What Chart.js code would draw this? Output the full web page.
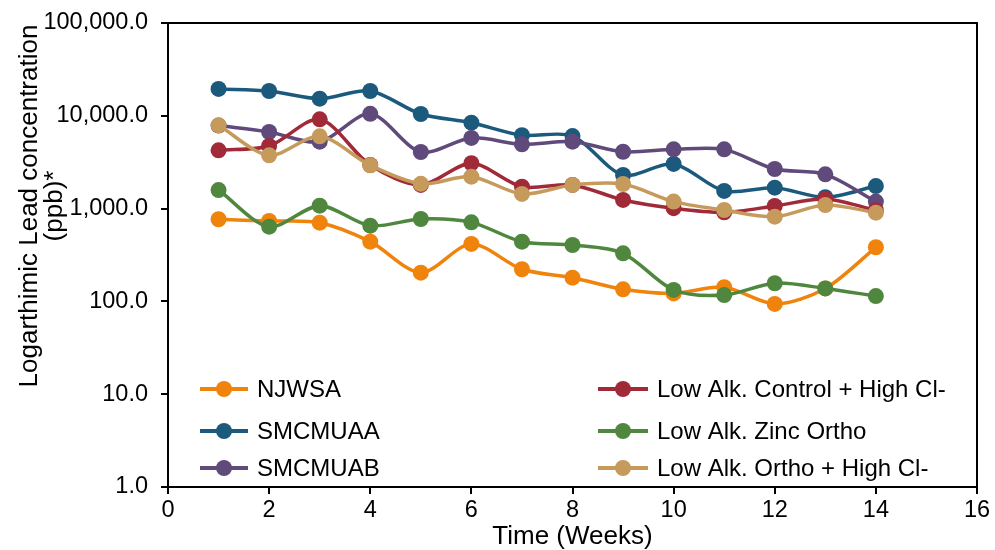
<!DOCTYPE html>
<html>
<head>
<meta charset="utf-8">
<script src="https://cdn.jsdelivr.net/npm/chart.js@4.4.1/dist/chart.umd.min.js"></script>
<style>
  html, body { margin: 0; padding: 0; background: #fff; }
  #wrap { width: 995px; height: 550px; position: relative; }
</style>
</head>
<body>
<div id="wrap"><canvas id="leadChart"></canvas></div>
<script>
// weekly lead samples (ppb)
const weeks = [1, 2, 3, 4, 5, 6, 7, 8, 9, 10, 11, 12, 13, 14]

const seriesNames = [
  'NJWSA',
  'SMCMUAA',
  'SMCMUAB',
  'Low Alk. Control + High Cl-',
  'Low Alk. Zinc Ortho',
  'Low Alk. Ortho + High Cl-'
]
const seriesColors = ['#F0830C', '#1C5A7D', '#604A7B', '#A12A38', '#4F873F', '#C59A5B']

const njwsa = [768, 735, 705, 440, 204, 416, 222, 180, 135, 122, 142, 94, 138, 383]
const smcmuaa = [19500, 18500, 15300, 18500, 10450, 8430, 6170, 6050, 2300, 3030, 1550, 1680, 1325, 1750]
const smcmuab = [7850, 6690, 5260, 10500, 4070, 5770, 4930, 5260, 4100, 4350, 4350, 2670, 2340, 1190]
const lowAlkControl = [4250, 4730, 9160, 2950, 1800, 3080, 1720, 1800, 1240, 1010, 912, 1067, 1270, 960]
const lowAlkZinc = [1585, 638, 1076, 654, 773, 711, 440, 405, 330, 133, 117, 157, 138, 114]
const lowAlkOrtho = [7900, 3750, 6010, 2930, 1850, 2210, 1440, 1800, 1840, 1190, 966, 818, 1094, 904]

const allSeries = [njwsa, smcmuaa, smcmuab, lowAlkControl, lowAlkZinc, lowAlkOrtho]

const yTicks = [1, 10, 100, 1000, 10000, 100000]
const xTicks = [0, 2, 4, 6, 8, 10, 12, 14, 16]
const yTitle = ['Logarthimic Lead concentration', '(ppb)*']

const datasets = allSeries.map((vals, i) => ({
  label: seriesNames[i],
  data: vals.map((v, j) => ({ x: weeks[j], y: v })),
  borderColor: seriesColors[i],
  backgroundColor: seriesColors[i],
  pointBackgroundColor: seriesColors[i],
  pointBorderColor: seriesColors[i],
  pointRadius: 8,
  pointBorderWidth: 0,
  borderWidth: 3.5,
  tension: 0.3,
  // later series sit on top, like the spreadsheet
  order: allSeries.length - i
}))

const font = 'Liberation Sans, Arial, sans-serif'

// legend inside the plot: two columns of three
const insideLegend = {
  id: 'insideLegend',
  afterDraw(chart) {
    const ctx = chart.ctx
    const cols = [{ x0: 200, x1: 248 }, { x0: 598, x1: 648 }]
    const rows = [389, 431, 468]
    ctx.save()
    seriesNames.forEach((name, i) => {
      const c = cols[Math.floor(i / 3)]
      const y = rows[i % 3]
      ctx.strokeStyle = seriesColors[i]
      ctx.lineWidth = 4
      ctx.beginPath()
      ctx.moveTo(c.x0, y)
      ctx.lineTo(c.x1, y)
      ctx.stroke()
      ctx.fillStyle = seriesColors[i]
      ctx.beginPath()
      ctx.arc((c.x0 + c.x1) / 2, y, 8, 0, Math.PI * 2)
      ctx.fill()
      ctx.fillStyle = '#000'
      ctx.font = '24px ' + font
      ctx.textBaseline = 'middle'
      ctx.textAlign = 'left'
      ctx.fillText(name, c.x1 + 9, y + 1)
    })
    ctx.restore()
  }
}

// black box round the plot area, plus the rotated y title
const plotBox = {
  id: 'plotBox',
  afterDraw(chart) {
    const a = chart.chartArea
    const ctx = chart.ctx
    ctx.save()
    ctx.strokeStyle = '#000'
    ctx.lineWidth = 2
    ctx.strokeRect(a.left, a.top, a.right - a.left, a.bottom - a.top)

    ctx.translate(30, 206)
    ctx.rotate(-Math.PI / 2)
    ctx.fillStyle = '#000'
    ctx.font = '26px ' + font
    ctx.textAlign = 'center'
    ctx.textBaseline = 'middle'
    yTitle.forEach((line, i) => ctx.fillText(line, 0, i * 25))
    ctx.restore()
  }
}

const ctx = document.getElementById('leadChart').getContext('2d')
new Chart(ctx, {
  type: 'line',
  data: { datasets },
  plugins: [insideLegend, plotBox],
  options: {
    responsive: true,
    maintainAspectRatio: false,
    animation: false,
    layout: { padding: { top: 23, right: 18, left: 0, bottom: 0 } },
    plugins: {
      legend: { display: false },
      tooltip: { enabled: false }
    },
    scales: {
      x: {
        type: 'linear',
        min: 0,
        max: 16,
        afterBuildTicks: s => { s.ticks = xTicks.map(v => ({ value: v })) },
        afterFit: s => { s.height = 63 },
        ticks: {
          color: '#000',
          font: { family: font, size: 23.5 },
          padding: 2,
          maxRotation: 0
        },
        grid: { drawOnChartArea: false, drawTicks: true, tickLength: 7, color: '#000', lineWidth: 2 },
        border: { display: true, color: '#000', width: 2 },
        title: {
          display: true,
          text: 'Time (Weeks)',
          color: '#000',
          font: { family: font, size: 26, lineHeight: 1.0 },
          padding: { top: 0, bottom: 0 }
        }
      },
      y: {
        type: 'logarithmic',
        min: 1,
        max: 100000,
        afterBuildTicks: s => { s.ticks = yTicks.map(v => ({ value: v })) },
        afterFit: s => {
          s.width = 168
          s.paddingTop = 0
          s.paddingBottom = 0
        },
        ticks: {
          color: '#000',
          font: { family: font, size: 23.5 },
          padding: 13,
          callback: v => Number(v).toLocaleString('en-US', { minimumFractionDigits: 1, maximumFractionDigits: 1 })
        },
        grid: { drawOnChartArea: false, drawTicks: true, tickLength: 7, color: '#000', lineWidth: 2 },
        border: { display: true, color: '#000', width: 2 }
      }
    }
  }
})
</script>
</body>
</html>
